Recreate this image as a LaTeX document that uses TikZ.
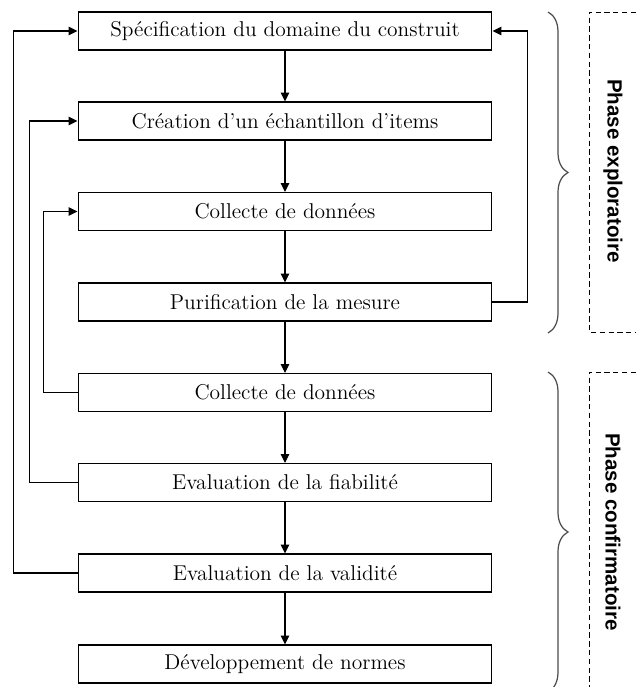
\documentclass[tikz,border=0pt]{standalone}
\usepackage{fontspec}
\newfontfamily\phasefont{Liberation Sans}
\usetikzlibrary{arrows.meta,decorations.pathreplacing}

\tikzset{etape/.style = {draw, line width = 0.6pt, minimum width = 8.28cm, minimum height = 0.76cm,
                         inner sep = 0pt, font = \fontsize{12.2}{14}\selectfont},
         fleche/.style = {line width = 0.6pt, -{Triangle[length=5pt,width=4.8pt]}},
         retour/.style = {line width = 0.6pt, -{Triangle[length=5pt,width=4.8pt]}},
         accolade/.style = {decorate, decoration = {brace, amplitude = 0.4cm}, gray!60!black, line width = 0.7pt},
         cadre/.style = {dashed, line width = 0.5pt, dash pattern = on 3pt off 2pt},
         phase/.style = {rotate = -90, font = \phasefont\bfseries\fontsize{11.7}{14}\selectfont}
        }

\begin{document}
\begin{tikzpicture}[x = 0.02cm, y = -0.02cm]
  \useasboundingbox (0, 0) rectangle (636, 687);
  \node[etape] (b1) at (285, 31)    {Spécification du domaine du construit};
  \node[etape] (b2) at (285, 121)   {Création d’un échantillon d’items};
  \node[etape] (b3) at (285, 211.5) {Collecte de données};
  \node[etape] (b4) at (285, 302)   {Purification de la mesure};
  \node[etape] (b5) at (285, 392.5) {Collecte de données};
  \node[etape] (b6) at (285, 482.5) {Evaluation de la fiabilité};
  \node[etape] (b7) at (285, 573)   {Evaluation de la validité};
  \node[etape] (b8) at (285, 664)   {Développement de normes};

  \draw[fleche] (b1) -- (b2);
  \draw[fleche] (b2) -- (b3);
  \draw[fleche] (b3) -- (b4);
  \draw[fleche] (b4) -- (b5);
  \draw[fleche] (b5) -- (b6);
  \draw[fleche] (b6) -- (b7);
  \draw[fleche] (b7) -- (b8);

  \draw[retour] (b7.west) -- ++(-64, 0) |- (b1.west);
  \draw[retour] (b6.west) -- ++(-48, 0) |- (b2.west);
  \draw[retour] (b5.west) -- ++(-34, 0) |- (b3.west);
  \draw[retour] (b4.east) -- ++(35, 0) |- (b1.east);

  \draw[accolade] (548, 12) -- (548, 333);
  \draw[accolade] (548, 372) -- (548, 692);

  \draw[cadre] (636, 12) -- (589, 12) -- (589, 332) -- (636, 332);
  \draw[cadre] (636, 372) -- (589, 372) -- (589, 687);

  \node[phase] (p1) at (613, 171) {Phase exploratoire};
  \node[phase] (p2) at (613, 532) {Phase confirmatoire};
\end{tikzpicture}
\end{document}
